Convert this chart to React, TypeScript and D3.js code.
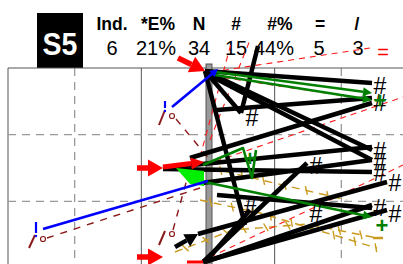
import React from "react";
import * as d3 from "d3";

// ---------- data (grid units: x 0..6, y 0..3) ----------
const headerLabels = ["Ind.", "*E%", "N", "#", "#%", "=", "/"];
const headerValues = ["6", "21%", "34", "15", "44%", "5", "3"];
const stationLabel = "S5";

const xTicks = [0, 1, 2, 3, 4, 5, 6];
const yTicks = [0, 1, 2, 3];

// thick black segments [x1, y1, x2, y2]
const blackLines: number[][] = [
  [2.955, 0.045, 5.46, 0.225],
  [3.135, 0.63, 5.46, 0.45],
  [2.955, 0.045, 3.495, 0.675],
  [3.495, 0.675, 3.75, -0.33],
  [2.955, 0.045, 5.46, 1.23],
  [2.985, 0.09, 5.46, 1.38],
  [2.955, 0.045, 3.555, 2.355],
  [2.325, 1.5, 5.46, 1.185],
  [2.73, 1.35, 5.46, 0.525],
  [2.325, 1.515, 5.46, 1.56],
  [2.91, 1.725, 5.46, 1.38],
  [3.135, 1.905, 5.46, 2.1],
  [2.925, 2.91, 4.485, 1.425],
  [2.85, 2.49, 5.685, 1.71],
  [2.925, 2.91, 5.685, 2.13],
  [2.955, 2.91, 5.46, 2.055],
  [2.985, 2.88, 3.63, 2.13],
];
const blackArrows: number[][] = [[2.505, 2.685, 2.85, 2.49]];

const greenArrows: number[][] = [
  [3.105, 0.06, 5.46, 0.375],
  [3.105, 0.105, 5.46, 0.48],
  [2.88, 1.695, 5.46, 2.235],
];
const greenPath: number[][] = [
  [2.925, 1.455],
  [3.525, 1.2],
  [3.66, 1.65],
  [3.72, 1.23],
];
const limeShape: number[][] = [
  [2.52, 1.5],
  [2.94, 1.545],
  [2.94, 1.77],
  [2.73, 1.74],
];

// red filled arrows [x1, y1, tipX, tipY]
const redArrows: number[][] = [
  [2.55, -0.15, 2.955, 0.045],
  [1.935, 1.5, 2.325, 1.5],
  [1.935, 2.835, 2.325, 2.835],
];
const redSmallArrows: number[][] = [[2.325, 1.485, 2.94, 1.41]];
const redBars: number[][] = [[2.685, 2.91, 2.925, 2.91]];

const blueArrows: number[][] = [[2.46, 0.585, 3.15, 0.015]];
const blueLines: number[][] = [[0.525, 2.415, 3.0, 1.695]];
const blueBangs: number[][] = [
  [2.355, 0.495, 0.6, 0.645],
  [0.42, 2.31, 2.475, 2.52],
];

const darkRedSlashes: number[][] = [
  [2.265, 0.855, 2.355, 0.63],
  [0.315, 2.7, 0.405, 2.505],
  [2.265, 2.655, 2.355, 2.445],
];
const darkRedCircles: number[][] = [
  [2.46, 0.72],
  [0.525, 2.565],
  [2.46, 2.49],
];
const darkRedDashed: number[][] = [
  [2.52, 0.765, 3.03, 1.38],
  [0.585, 2.55, 2.88, 1.8],
  [2.475, 2.43, 2.805, 1.23],
];

const redDashed: number[][] = [
  [3.06, 0.06, 5.43, -0.3],
  [3.075, 0.12, 5.46, 0.48],
  [2.955, 1.455, 5.925, 0.435],
  [2.88, 2.91, 5.925, 1.455],
  [2.88, 1.335, 3.36, -0.42],
  [3.03, 1.08, 3.63, -0.42],
];

const goldPaths: number[][][] = [
  [[3.03, 1.5], [5.085, 1.98]],
  [[2.88, 1.98], [3.78, 2.175], [5.535, 2.7]],
  [[2.505, 2.76], [3.375, 2.43], [4.485, 2.34], [5.535, 2.55]],
];

const hashMarks: number[][] = [
  [5.58, 0.255],
  [5.58, 0.51],
  [5.58, 1.23],
  [5.58, 1.395],
  [5.58, 1.56],
  [5.805, 1.71],
  [5.58, 2.085],
  [5.805, 2.175],
  [3.66, 0.735],
  [4.62, 1.455],
  [4.62, 2.175],
  [3.63, 2.1],
];
const greenPlus: number[][] = [
  [5.61, 2.355],
  [5.58, 0.48],
  [3.63, 1.35],
];
const redEquals: number[][] = [[5.625, -0.24]];
const goldMinus: number[][] = [[5.55, 2.55]];

const grayBar = { x: 3.015, w: 0.09, y0: -0.06, y1: 3 };

// ---------- helpers ----------
const W = 403;
const H = 264;
const FONT = "'Liberation Sans', Arial, sans-serif";
const x = d3.scaleLinear().domain([0, 6]).range([8, 408]);
const y = d3.scaleLinear().domain([0, 3]).range([68, 268]);

function arrowGeom(x1: number, y1: number, x2: number, y2: number, len: number, hw: number) {
  const dx = x2 - x1, dy = y2 - y1;
  const L = Math.hypot(dx, dy) || 1;
  const ux = dx / L, uy = dy / L;
  const bx = x2 - ux * len, by = y2 - uy * len;
  const px = -uy * hw, py = ux * hw;
  const head = `${x2},${y2} ${bx + px},${by + py} ${bx - px},${by - py}`;
  return { bx, by, head };
}

function ticksAlong(pts: number[][], step: number, half: number) {
  const out: number[][] = [];
  for (let i = 0; i < pts.length - 1; i++) {
    const [ax, ay] = pts[i], [bx, by] = pts[i + 1];
    const L = Math.hypot(bx - ax, by - ay);
    const ux = (bx - ax) / L, uy = (by - ay) / L;
    for (let s = step / 2; s < L; s += step) {
      const cx = ax + ux * s, cy = ay + uy * s;
      out.push([cx - uy * half + ux * 2, cy + ux * half + uy * 2, cx + uy * half - ux * 2, cy - ux * half - uy * 2]);
    }
  }
  return out;
}

export default function App() {
  const labelX = [112, 158, 199, 236, 280, 320, 357];
  const valueX = [112, 156, 199, 236, 274, 319, 358];
  const gold = "#c99a1e";
  const darkRed = "#8b1a1a";
  const line = d3.line<number[]>().x((d) => x(d[0])).y((d) => y(d[1]));

  return (
    <svg width={W} height={H} style={{ position: "absolute", left: 0, top: 0, background: "#fff" }}>
      {/* header */}
      <rect x={37} y={13} width={46} height={55} fill="#000" />
      <text
        x={60}
        y={55}
        fill="#fff"
        fontFamily={FONT}
        fontWeight="bold"
        fontSize={31}
        textAnchor="middle"
        transform="translate(60,0) scale(0.92,1) translate(-60,0)"
      >
        {stationLabel}
      </text>
      {headerLabels.map((t, i) => (
        <text key={"l" + i} x={labelX[i]} y={30} fontFamily={FONT} fontWeight="bold" fontSize={17.5} textAnchor="middle">
          {t}
        </text>
      ))}
      {headerValues.map((t, i) => (
        <text key={"v" + i} x={valueX[i]} y={55} fontFamily={FONT} fontSize={20} textAnchor="middle">
          {t}
        </text>
      ))}

      {/* grid */}
      {xTicks.map((t) => (
        <line
          key={"gx" + t}
          x1={x(t)}
          x2={x(t)}
          y1={y(0)}
          y2={y(3)}
          stroke={t % 2 === 0 ? "#555" : "#999"}
          strokeWidth={t % 2 === 0 ? 1 : 1.3}
          strokeDasharray={t % 2 === 0 ? undefined : "8,6"}
        />
      ))}
      {yTicks.map((t) => (
        <line
          key={"gy" + t}
          x1={x(0)}
          x2={x(6)}
          y1={y(t)}
          y2={y(t)}
          stroke={t === 0 || t === 3 ? "#555" : "#999"}
          strokeWidth={t === 0 || t === 3 ? 1 : 1.3}
          strokeDasharray={t === 0 || t === 3 ? undefined : "8,6"}
        />
      ))}

      {/* gray bar */}
      <rect
        x={x(grayBar.x - grayBar.w / 2)}
        y={y(grayBar.y0)}
        width={x(grayBar.w) - x(0)}
        height={y(grayBar.y1) - y(grayBar.y0)}
        fill="#999"
        stroke="#555"
        strokeWidth={1}
      />

      {/* gold dashed paths with ticks */}
      {goldPaths.map((p, i) => (
        <path key={"gp" + i} d={line(p) || ""} fill="none" stroke={gold} strokeWidth={1.4} strokeDasharray="8,6" />
      ))}
      {goldPaths.map((p, i) =>
        ticksAlong(p.map((d) => [x(d[0]), y(d[1])]), 22, 4).map((t, j) => (
          <line key={"gt" + i + "-" + j} x1={t[0]} y1={t[1]} x2={t[2]} y2={t[3]} stroke={gold} strokeWidth={1.4} />
        ))
      )}
      {goldMinus.map((d, i) => (
        <g key={"gm" + i}>
          <line x1={x(d[0]) - 5} x2={x(d[0]) + 5} y1={y(d[1])} y2={y(d[1])} stroke={gold} strokeWidth={2.5} />
        </g>
      ))}

      {/* dark red dashed */}
      {darkRedDashed.map((d, i) => (
        <line key={"dd" + i} x1={x(d[0])} y1={y(d[1])} x2={x(d[2])} y2={y(d[3])} stroke={darkRed} strokeWidth={1.4} strokeDasharray="7,7" />
      ))}
      {darkRedSlashes.map((d, i) => (
        <line key={"ds" + i} x1={x(d[0])} y1={y(d[1])} x2={x(d[2])} y2={y(d[3])} stroke={darkRed} strokeWidth={2} />
      ))}
      {darkRedCircles.map((d, i) => (
        <circle key={"dc" + i} cx={x(d[0])} cy={y(d[1])} r={2.5} fill="none" stroke={darkRed} strokeWidth={1.2} />
      ))}

      {/* red dashed */}
      {redDashed.map((d, i) => (
        <line key={"rd" + i} x1={x(d[0])} y1={y(d[1])} x2={x(d[2])} y2={y(d[3])} stroke="#ff1a1a" strokeWidth={1.1} strokeDasharray="6,5" />
      ))}

      {/* black lines */}
      {blackLines.map((d, i) => (
        <line key={"bl" + i} x1={x(d[0])} y1={y(d[1])} x2={x(d[2])} y2={y(d[3])} stroke="#000" strokeWidth={4.5} />
      ))}
      {blackArrows.map((d, i) => {
        const g = arrowGeom(x(d[0]), y(d[1]), x(d[2]), y(d[3]), 13, 7);
        return (
          <g key={"ba" + i}>
            <line x1={x(d[0])} y1={y(d[1])} x2={g.bx} y2={g.by} stroke="#000" strokeWidth={4.5} />
            <polygon points={g.head} fill="#000" />
          </g>
        );
      })}

      {/* green */}
      {greenArrows.map((d, i) => {
        const g = arrowGeom(x(d[0]), y(d[1]), x(d[2]), y(d[3]), 9, 4.5);
        return (
          <g key={"ga" + i}>
            <line x1={x(d[0])} y1={y(d[1])} x2={g.bx} y2={g.by} stroke="#008000" strokeWidth={2.6} />
            <polygon points={g.head} fill="#008000" />
          </g>
        );
      })}
      <path d={line(greenPath) || ""} fill="none" stroke="#008000" strokeWidth={2.6} strokeLinejoin="round" />
      <polygon points={limeShape.map((d) => `${x(d[0])},${y(d[1])}`).join(" ")} fill="#00ee00" />

      {/* blue */}
      {blueLines.map((d, i) => (
        <line key={"bu" + i} x1={x(d[0])} y1={y(d[1])} x2={x(d[2])} y2={y(d[3])} stroke="#0000ff" strokeWidth={2.6} />
      ))}
      {blueArrows.map((d, i) => {
        const g = arrowGeom(x(d[0]), y(d[1]), x(d[2]), y(d[3]), 8, 4);
        return (
          <g key={"bua" + i}>
            <line x1={x(d[0])} y1={y(d[1])} x2={g.bx} y2={g.by} stroke="#0000ff" strokeWidth={2.6} />
            <polygon points={g.head} fill="#0000ff" />
          </g>
        );
      })}
      {blueBangs.map((d, i) => (
        <g key={"bb" + i}>
          <line x1={x(d[0])} x2={x(d[0])} y1={y(d[1])} y2={y(d[2])} stroke="#0000ff" strokeWidth={2.2} />
          <circle cx={x(d[0])} cy={y(d[3])} r={1.2} fill="#0000ff" />
        </g>
      ))}

      {/* red arrows */}
      {redBars.map((d, i) => (
        <line key={"rb" + i} x1={x(d[0])} y1={y(d[1])} x2={x(d[2])} y2={y(d[3])} stroke="#ff0000" strokeWidth={3} />
      ))}
      {redSmallArrows.map((d, i) => {
        const g = arrowGeom(x(d[0]), y(d[1]), x(d[2]), y(d[3]), 13, 6);
        return (
          <g key={"rs" + i}>
            <line x1={x(d[0])} y1={y(d[1])} x2={g.bx} y2={g.by} stroke="#ff0000" strokeWidth={5} />
            <polygon points={g.head} fill="#ff0000" />
          </g>
        );
      })}
      {redArrows.map((d, i) => {
        const g = arrowGeom(x(d[0]), y(d[1]), x(d[2]), y(d[3]), 15, 8.5);
        return (
          <g key={"ra" + i}>
            <line x1={x(d[0])} y1={y(d[1])} x2={g.bx} y2={g.by} stroke="#ff0000" strokeWidth={5.5} />
            <polygon points={g.head} fill="#ff0000" />
          </g>
        );
      })}

      {/* symbols */}
      {hashMarks.map((d, i) => (
        <text key={"h" + i} x={x(d[0])} y={y(d[1]) + 8.5} fontFamily={FONT} fontSize={23} textAnchor="middle" fill="#000">
          #
        </text>
      ))}
      {greenPlus.map((d, i) => (
        <text key={"gpl" + i} x={x(d[0])} y={y(d[1]) + 8} fontFamily={FONT} fontWeight="bold" fontSize={22} textAnchor="middle" fill="#008000">
          +
        </text>
      ))}
      {redEquals.map((d, i) => (
        <text key={"re" + i} x={x(d[0])} y={y(d[1]) + 7} fontFamily={FONT} fontSize={20} textAnchor="middle" fill="#ff0000">
          =
        </text>
      ))}
    </svg>
  );
}
